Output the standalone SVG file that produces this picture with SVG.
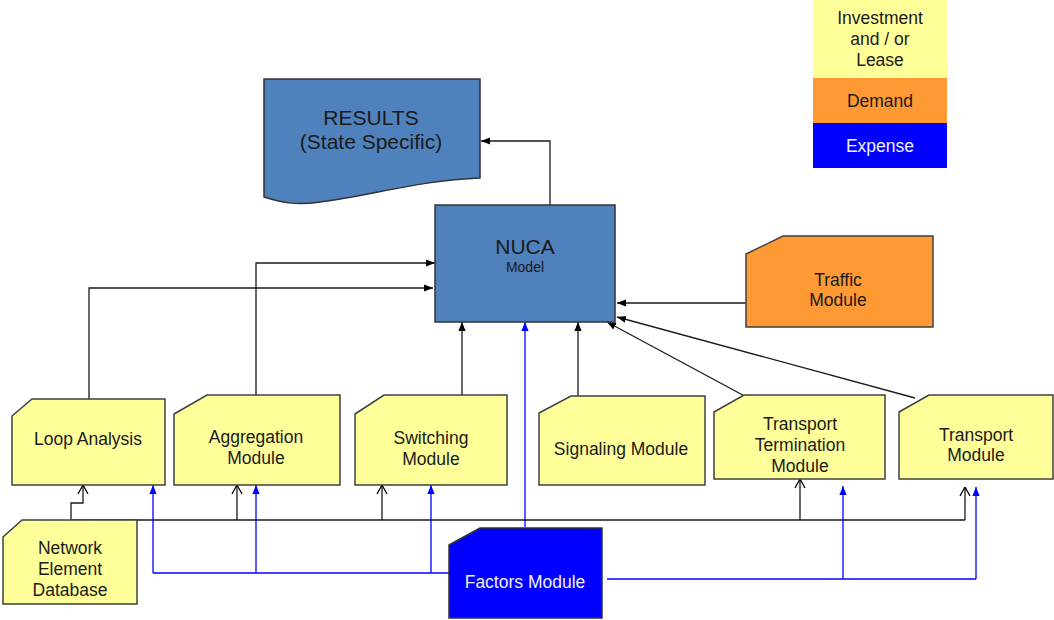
<svg xmlns="http://www.w3.org/2000/svg" width="1054" height="620" viewBox="0 0 1054 620">
<style>
text{font-family:"Liberation Sans",Arial,sans-serif;text-anchor:middle;dominant-baseline:central;fill:#1a1a1a}
.mod{fill:#FFFF99;stroke:#404040;stroke-width:1.5}
.blu{fill:#4F81BD;stroke:#333;stroke-width:1.5}
.t18{font-size:17.5px}
.k{fill:none;stroke:#1a1a1a;stroke-width:1.3}
.b{fill:none;stroke:#0000FF;stroke-width:1.3}
</style>
<defs>
<marker id="ah" viewBox="0 0 10 10" refX="10" refY="5" markerWidth="9" markerHeight="9" markerUnits="userSpaceOnUse" orient="auto"><path d="M0,1 L10,5 L0,9 z" fill="#000"/></marker>
<marker id="ab" viewBox="0 0 10 10" refX="10" refY="5" markerWidth="9" markerHeight="9" markerUnits="userSpaceOnUse" orient="auto"><path d="M0,1 L10,5 L0,9 z" fill="#0000FF"/></marker>
<marker id="ao" viewBox="0 0 10 12" refX="10" refY="6" markerWidth="10" markerHeight="12" markerUnits="userSpaceOnUse" orient="auto"><path d="M1,1 L10,6 L1,11" fill="none" stroke="#000" stroke-width="1.3"/></marker>
</defs>

<g id="legend">
<rect x="813" y="0" width="134" height="78" fill="#FFFF99"/>
<rect x="813" y="78" width="134" height="45" fill="#FF9933"/>
<rect x="813" y="123" width="134" height="45" fill="#0000FF"/>
<text class="t18" x="880" y="18">Investment</text>
<text class="t18" x="880" y="38.5">and / or</text>
<text class="t18" x="880" y="59.5">Lease</text>
<text class="t18" x="880" y="101">Demand</text>
<text class="t18" x="880" y="146" style="fill:#F0F0FF">Expense</text>
</g>

<g id="connectors">
<!-- NUCA to Results -->
<path class="k" d="M550,205 V141 H481" marker-end="url(#ah)"/>
<!-- Aggregation to NUCA -->
<path class="k" d="M256,395 V263 H435" marker-end="url(#ah)"/>
<!-- Loop Analysis to NUCA -->
<path class="k" d="M89,399 V288 H433" marker-end="url(#ah)"/>
<!-- Switching to NUCA -->
<path class="k" d="M462,395 V322" marker-end="url(#ah)"/>
<!-- Signaling to NUCA -->
<path class="k" d="M578,396 V322" marker-end="url(#ah)"/>
<!-- Factors to NUCA -->
<path class="b" d="M525,527 V322" marker-end="url(#ab)"/>
<!-- Traffic to NUCA -->
<path class="k" d="M746,303 H617" marker-end="url(#ah)"/>
<!-- Transport Termination to NUCA -->
<path class="k" d="M752,400 L607,322" marker-end="url(#ah)"/>
<!-- Transport to NUCA -->
<path class="k" d="M915,398 L617,317" marker-end="url(#ah)"/>
<!-- NED bus -->
<path class="k" d="M71,520 H965"/>
<path class="k" d="M71,520 V503 H83 V485" marker-end="url(#ao)"/>
<path class="k" d="M237,520 V485" marker-end="url(#ao)"/>
<path class="k" d="M382,520 V485" marker-end="url(#ao)"/>
<path class="k" d="M800,520 V479" marker-end="url(#ao)"/>
<path class="k" d="M965,520 V487" marker-end="url(#ao)"/>
<!-- Factors blue bus left -->
<path class="b" d="M449,573 H153"/>
<path class="b" d="M153,573 V485" marker-end="url(#ab)"/>
<path class="b" d="M256,573 V485" marker-end="url(#ab)"/>
<path class="b" d="M431,573 V485" marker-end="url(#ab)"/>
<!-- Factors blue bus right -->
<path class="b" d="M607,579 H976"/>
<path class="b" d="M843,579 V486" marker-end="url(#ab)"/>
<path class="b" d="M976,579 V487" marker-end="url(#ab)"/>
</g>

<g id="results">
<path class="blu" d="M264,79 H480 V178 C420,180 370,196 320,202 C295,206 280,202 264,197 Z"/>
<text x="371" y="117" style="font-size:21px">RESULTS</text>
<text x="371" y="141" style="font-size:21px">(State Specific)</text>
</g>

<g id="nuca">
<rect class="blu" x="435" y="205" width="180" height="117"/>
<text x="525" y="246" style="font-size:21px">NUCA</text>
<text x="525" y="267" style="font-size:14px">Model</text>
</g>

<g id="traffic">
<path d="M746,254 L783,236 H933 V327 H746 Z" fill="#FF9933" stroke="#404040" stroke-width="1.5"/>
<text class="t18" x="838" y="280">Traffic</text>
<text class="t18" x="838" y="300">Module</text>
</g>

<g id="loop">
<path class="mod" d="M12,416 L32,399 H165 V485 H12 Z"/>
<text class="t18" x="88" y="439">Loop Analysis</text>
</g>

<g id="aggregation">
<path class="mod" d="M174,414 L207,395 H340 V485 H174 Z"/>
<text class="t18" x="256" y="437">Aggregation</text>
<text class="t18" x="256" y="458">Module</text>
</g>

<g id="switching">
<path class="mod" d="M355,414 L384,395 H507 V485 H355 Z"/>
<text class="t18" x="431" y="438">Switching</text>
<text class="t18" x="431" y="459">Module</text>
</g>

<g id="signaling">
<path class="mod" d="M539,413 L571,396 H705 V485 H539 Z"/>
<text class="t18" x="621" y="449">Signaling Module</text>
</g>

<g id="transport-termination">
<path class="mod" d="M714,412 L744,395 H885 V479 H714 Z"/>
<text class="t18" x="800" y="424">Transport</text>
<text class="t18" x="800" y="445">Termination</text>
<text class="t18" x="800" y="466">Module</text>
</g>

<g id="transport">
<path class="mod" d="M899,412 L929,395 H1053 V479 H899 Z"/>
<text class="t18" x="976" y="435">Transport</text>
<text class="t18" x="976" y="455">Module</text>
</g>

<g id="ned">
<path class="mod" d="M3,537 L22,520 H137 V604 H3 Z"/>
<text class="t18" x="70" y="548">Network</text>
<text class="t18" x="70" y="569">Element</text>
<text class="t18" x="70" y="590">Database</text>
</g>

<g id="factors">
<path d="M449,545 L480,528 H602 V618 H449 Z" fill="#0000FF" stroke="#333" stroke-width="1.5"/>
<text class="t18" x="525" y="582" style="fill:#F0F0FF">Factors Module</text>
</g>
</svg>
